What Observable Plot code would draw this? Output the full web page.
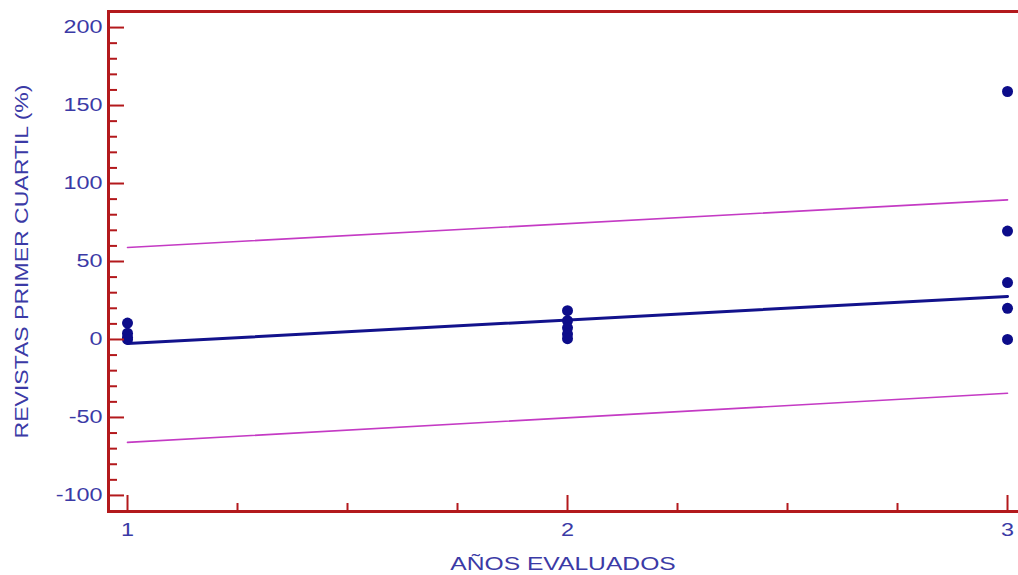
<!DOCTYPE html>
<html>
<head>
<meta charset="utf-8">
<script src="https://cdn.jsdelivr.net/npm/d3@7"></script>
<script src="https://cdn.jsdelivr.net/npm/@observablehq/plot@0.6"></script>
<style>
  html, body { margin: 0; padding: 0; background: #ffffff; }
  #chart svg { display: block; }
</style>
</head>
<body>
<div id="chart"></div>
<script>
// Observed journals in the first quartile (%) per evaluated year
const pointYears  = [1, 1, 1, 1, 2, 2, 2, 2, 2, 3, 3, 3, 3, 3];
const pointValues = [10.5, 4, 1.5, 0, 18.5, 12, 7.5, 3.5, 0.5, 159, 69.5, 36.5, 20, 0];

// Fitted regression line and prediction limits at the ends of the range
const fitYears   = [1, 3];
const fitValues  = [-2.6, 27.6];
const upperLimit = [59, 89.5];
const lowerLimit = [-66, -34.5];

// Axis ticks
const yMajorTicks = [-100, -50, 0, 50, 100, 150, 200];
const yMinorTicks = d3.range(-110, 211, 10).filter(v => v % 50 !== 0);
const xMajorTicks = [1, 2, 3];
const xMinorTicks = [1.25, 1.5, 1.75, 2.25, 2.5, 2.75];

const points = pointYears.map((x, i) => ({x, y: pointValues[i]}));
const fit    = fitYears.map((x, i) => ({x, y: fitValues[i]}));
const upper  = fitYears.map((x, i) => ({x, y: upperLimit[i]}));
const lower  = fitYears.map((x, i) => ({x, y: lowerLimit[i]}));

const W = 1018, H = 575;
const mL = 108, mR = 1, mT = 11, mB = 64;
const plotW = W - mL - mR, plotH = H - mT - mB;

const frameColor = "#b3191c";
const textColor = "#3b3aa6";

const chart = Plot.plot({
  width: W,
  height: H,
  marginLeft: mL,
  marginRight: mR,
  marginTop: mT,
  marginBottom: mB,
  style: {fontFamily: "'Liberation Sans', Arial, sans-serif", fontSize: "18px", color: textColor, background: "#ffffff"},
  x: {domain: [0.9568, 3.0227]},
  y: {domain: [-110.3, 210.3]},
  marks: [
    // prediction limits
    Plot.line(upper, {x: "x", y: "y", stroke: "#c43ac4", strokeWidth: 1.6}),
    Plot.line(lower, {x: "x", y: "y", stroke: "#c43ac4", strokeWidth: 1.6}),
    // fitted line
    Plot.line(fit, {x: "x", y: "y", stroke: "#12128c", strokeWidth: 3}),
    // observations
    Plot.dot(points, {x: "x", y: "y", r: 5.5, fill: "#0c0c8a", stroke: "none"}),
    // inward ticks on the left axis
    Plot.tickY(yMajorTicks, {y: d => d, stroke: frameColor, strokeWidth: 2, insetRight: plotW - 16}),
    Plot.tickY(yMinorTicks, {y: d => d, stroke: frameColor, strokeWidth: 2, insetRight: plotW - 9}),
    // inward ticks on the bottom axis
    Plot.tickX(xMajorTicks, {x: d => d, stroke: frameColor, strokeWidth: 2, insetTop: plotH - 16}),
    Plot.tickX(xMinorTicks, {x: d => d, stroke: frameColor, strokeWidth: 2, insetTop: plotH - 8}),
    Plot.axisY(yMajorTicks, {
      tickSize: 0, tickPadding: 6, tickFormat: d => String(d),
      label: "REVISTAS PRIMER CUARTIL (%)",
      labelAnchor: "center", labelArrow: "none", labelOffset: 93, fill: textColor
    }),
    Plot.axisX(xMajorTicks, {
      tickSize: 0, tickPadding: 12, tickFormat: d => String(d),
      label: "AÑOS EVALUADOS",
      labelAnchor: "center", labelArrow: "none", labelOffset: 58, fill: textColor
    }),
    // frame: top, left and bottom edges
    Plot.frame({stroke: frameColor, strokeWidth: 3, anchor: "top"}),
    Plot.frame({stroke: frameColor, strokeWidth: 3, anchor: "left"}),
    Plot.frame({stroke: frameColor, strokeWidth: 3, anchor: "bottom"})
  ]
});

// Widen the axis lettering along its reading direction
const widen = (selector, k) => {
  chart.querySelectorAll(selector).forEach(t => {
    const tr = t.getAttribute("transform") || "";
    t.setAttribute("transform", `${tr} scale(${k},1)`);
  });
};
widen('[aria-label="y-axis tick label"] text', 1.3);
widen('[aria-label="x-axis tick label"] text', 1.3);
widen('[aria-label="y-axis label"] text', 1.28);
widen('[aria-label="x-axis label"] text', 1.37);

document.getElementById("chart").appendChild(chart);
</script>
</body>
</html>
